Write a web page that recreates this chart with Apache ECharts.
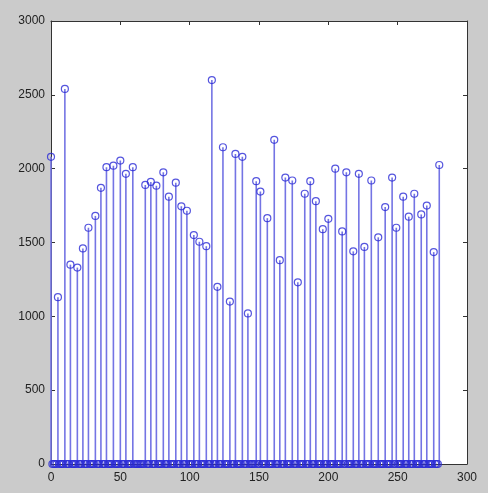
<!DOCTYPE html>
<html>
<head>
<meta charset="utf-8">
<script src="https://cdn.jsdelivr.net/npm/echarts@6/dist/echarts.min.js"></script>
<style>
html,body{margin:0;padding:0;background:#cbcbcb;}
#c{width:488px;height:493px;}
</style>
</head>
<body>
<div id="c"></div>
<script>
const sampleCount = 281;
const peakIdx = [0,5,10,14,19,23,27,32,36,40,45,50,54,59,68,72,76,81,85,90,94,98,103,107,112,116,120,124,129,133,138,142,148,151,156,161,165,169,174,178,183,187,191,196,200,205,210,213,218,222,226,231,236,241,246,249,254,258,262,267,271,276,280];
const peakVal = [2080,1130,2540,1350,1330,1460,1600,1680,1870,2010,2020,2055,1965,2010,1890,1910,1885,1975,1810,1905,1745,1715,1550,1505,1475,2600,1200,2145,1100,2100,2080,1020,1915,1845,1665,2195,1380,1940,1920,1230,1830,1915,1780,1590,1660,2000,1575,1975,1440,1965,1470,1920,1535,1740,1940,1600,1810,1675,1830,1690,1750,1435,2025];
const xTicks = [0,50,100,150,200,250,300];
const yTicks = [0,500,1000,1500,2000,2500,3000];

const values = new Array(sampleCount).fill(0);
peakIdx.forEach((k, i) => { values[k] = peakVal[i]; });
const pts = values.map((v, i) => [i, v]);

const chart = echarts.init(document.getElementById('c'), null, {renderer: 'canvas'});
const font = {fontFamily: 'Liberation Sans, Arial, sans-serif', fontSize: 12, color: '#222', formatter: v => String(v)};
const axBase = {
  type: 'value', min: 0,
  axisLine: {show: true, onZero: false, lineStyle: {color: '#333', width: 1}},
  axisTick: {show: true, inside: true, length: 4, lineStyle: {color: '#333'}},
  splitLine: {show: false}
};
chart.setOption({
  backgroundColor: '#cbcbcb',
  animation: false,
  grid: {left: 51, right: 21, top: 21, bottom: 29, show: true, backgroundColor: '#ffffff', borderWidth: 0},
  xAxis: [
    Object.assign({}, axBase, {position: 'bottom', max: xTicks[xTicks.length-1], interval: 50,
      axisLabel: Object.assign({margin: 8}, font)}),
    Object.assign({}, axBase, {position: 'top', max: 300, interval: 50, axisLabel: {show: false}})
  ],
  yAxis: [
    Object.assign({}, axBase, {position: 'left', max: yTicks[yTicks.length-1], interval: 500,
      axisLabel: Object.assign({margin: 6}, font)}),
    Object.assign({}, axBase, {position: 'right', max: 3000, interval: 500, axisLabel: {show: false}})
  ],
  series: [
    {
      type: 'bar', data: pts, barWidth: 1.6, xAxisIndex: 0, yAxisIndex: 0,
      itemStyle: {color: '#7474e4'}, silent: true
    },
    {
      type: 'scatter', data: pts, xAxisIndex: 0, yAxisIndex: 0,
      symbol: 'circle', symbolSize: 7,
      itemStyle: {color: 'rgba(0,0,0,0)', borderColor: '#2a2ad6', borderWidth: 1.2}
    }
  ]
});
</script>
</body>
</html>
